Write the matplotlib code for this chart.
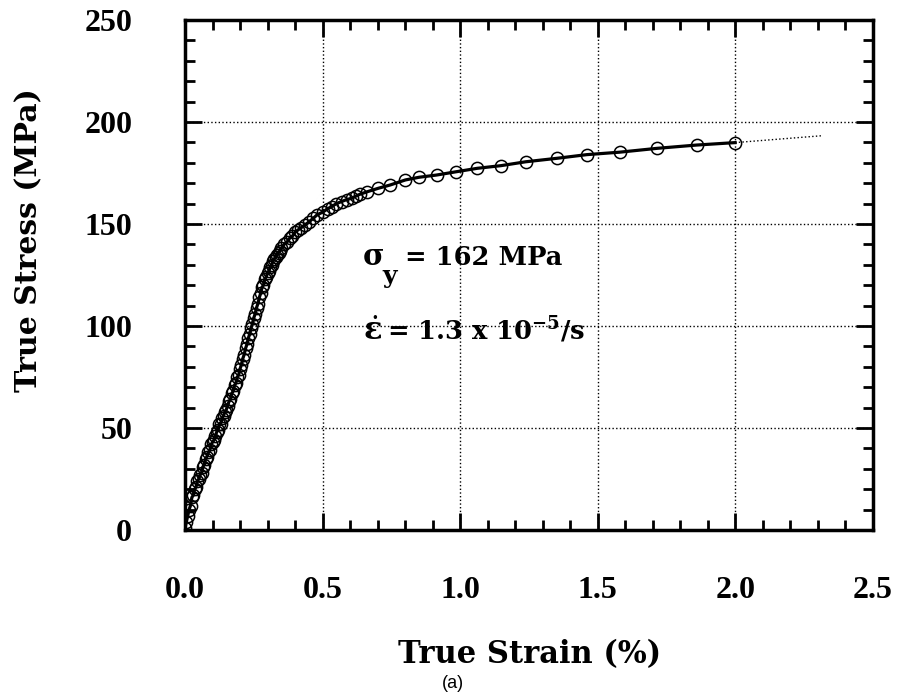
import matplotlib.pyplot as plt
from matplotlib.ticker import MultipleLocator

plt.rcParams['mathtext.fontset'] = 'dejavuserif'

# strain (%) and true stress (MPa)
strain = [0.000, 0.005, 0.010, 0.015, 0.020, 0.025, 0.030, 0.035, 0.040, 0.045,
          0.050, 0.055, 0.060, 0.065, 0.070, 0.075, 0.080, 0.085, 0.090, 0.095,
          0.100, 0.105, 0.110, 0.115, 0.120, 0.125, 0.130, 0.135, 0.140, 0.145,
          0.150, 0.155, 0.160, 0.165, 0.170, 0.175, 0.180, 0.185, 0.190, 0.195,
          0.200, 0.205, 0.210, 0.215, 0.220, 0.225, 0.230, 0.235, 0.240, 0.245,
          0.250, 0.255, 0.260, 0.265, 0.270, 0.275, 0.280, 0.285, 0.290, 0.295,
          0.300, 0.305, 0.310, 0.315, 0.320, 0.325, 0.330, 0.335, 0.340, 0.345,
          0.350, 0.360, 0.370, 0.380, 0.390, 0.400, 0.410, 0.420, 0.436, 0.450,
          0.466, 0.480, 0.503, 0.518, 0.533, 0.550, 0.569, 0.588, 0.606, 0.620,
          0.636, 0.662, 0.702, 0.745, 0.801, 0.850, 0.914, 0.985, 1.062, 1.148,
          1.238, 1.351, 1.460, 1.579, 1.716, 1.859, 1.999]
stress = [1, 4, 7, 10, 12, 16, 17, 20, 21, 24,
          25, 27, 28, 31, 32, 35, 36, 38, 39, 42,
          43, 44, 46, 48, 49, 52, 52, 55, 56, 58,
          59, 61, 63, 64, 67, 68, 71, 72, 75, 76,
          79, 81, 84, 86, 89, 91, 94, 96, 99, 101,
          104, 106, 109, 111, 114, 116, 119, 120, 123, 124,
          126, 127, 129, 130, 132, 133, 134, 135, 136, 137,
          138, 140, 141, 143, 144, 146, 147, 148, 149.5, 151,
          152.8, 154.5, 156.0, 157.5, 158.5, 160, 161.0, 162, 162.6, 163.6,
          164.6, 165.8, 167.5, 169.1, 171.6, 172.9, 174.0, 175.6, 177.3, 178.6,
          180.5, 182.2, 184.0, 185.2, 187.1, 188.7, 189.9]

# thin dotted extrapolation beyond the last point
extra_strain = [1.999, 2.317]
extra_stress = [189.9, 193.3]

sigma_y = 162
rate_text = "1.3 x 10"

fig = plt.figure(figsize=(9.01, 6.96), dpi=100)
ax = fig.add_axes([185/901, 1 - 530/696, 688/901, 510/696])

ax.plot(strain, stress, '-', color='black', lw=2.3, zorder=3)
ax.plot(strain, stress, 'o', mfc='none', mec='black', ms=8.8, mew=1.1, zorder=4)
ax.plot(extra_strain, extra_stress, ':', color='black', lw=1.0, zorder=3)

ax.set_xlim(0, 2.5)
ax.set_ylim(0, 250)
ax.xaxis.set_major_locator(MultipleLocator(0.5))
ax.xaxis.set_minor_locator(MultipleLocator(0.1))
ax.yaxis.set_major_locator(MultipleLocator(50))
ax.yaxis.set_minor_locator(MultipleLocator(10))
ax.xaxis.set_major_formatter(lambda v, p: f"{v:.1f}")
ax.yaxis.set_major_formatter(lambda v, p: f"{v:.0f}")

ax.grid(True, which='major', ls=':', color='black', lw=1.0)
ax.set_axisbelow(True)
for s in ax.spines.values():
    s.set_linewidth(2.5)

ax.tick_params(which='both', direction='in', top=True, right=True, width=2.0)
ax.tick_params(which='major', length=12)
ax.tick_params(which='minor', length=7)
ax.tick_params(axis='x', which='major', pad=33)
ax.tick_params(axis='y', which='major', pad=38)
for lab in ax.get_xticklabels() + ax.get_yticklabels():
    lab.set_fontfamily('Liberation Serif')
    lab.set_fontweight('bold')
    lab.set_fontsize(23)

fig.text(530/901, 1 - 655/696, "True Strain (%)", ha='center', va='center',
         family='DejaVu Serif', weight='bold', fontsize=22)
fig.text(29/901, 1 - 240/696, "True Stress (MPa)", ha='center', va='center',
         rotation=90, family='DejaVu Serif', weight='bold', fontsize=21.5)
fig.text(453/901, 1 - 683/696, "(a)", ha='center', va='center',
         family='Liberation Sans', fontsize=13)

# annotations
ax.text(0.647, 129.9, "σ", family='DejaVu Serif', weight='bold', fontsize=21, va='baseline')
ax.text(0.716, 121.0, "y", family='DejaVu Serif', weight='bold', fontsize=18, va='baseline')
ax.text(0.800, 129.9, f"= {sigma_y} MPa", family='DejaVu Serif', weight='bold',
        fontsize=18.5, va='baseline')
ax.text(0.647, 93.1, r"$\dot{\mathbf{\varepsilon}}$", fontsize=22, va='baseline')
ax.text(0.734, 93.1, "= " + rate_text + r"$^{\mathbf{-5}}$/s", family='DejaVu Serif',
        weight='bold', fontsize=18.5, va='baseline')

fig.savefig("out.png", dpi=100)
